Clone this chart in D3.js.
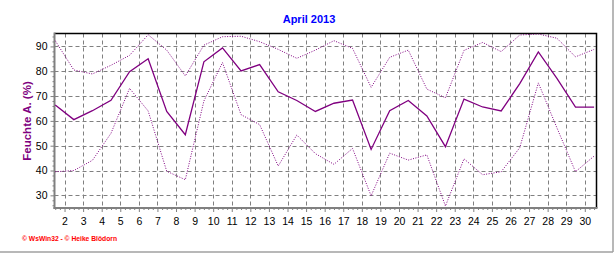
<!DOCTYPE html>
<html>
<head>
<meta charset="utf-8">
<script src="https://cdn.jsdelivr.net/npm/d3@7"></script>
<style>
  body { margin: 0; background: #fff; }
  svg { display: block; }
  text { font-family: "Liberation Sans", Arial, sans-serif; }
</style>
</head>
<body>
<svg id="chart" width="616" height="253"></svg>
<script>
// daily humidity values, April 2013 (days 1..30)
const days = d3.range(1, 31)
const maxHum = [92.3, 80.5, 78.9, 82.4, 86.4, 94.7, 88.5, 78.1, 90.5, 93.9,
  94.1, 91.9, 88.8, 85.2, 88.5, 92.3, 89.2, 73.5, 85.6, 88.5,
  72.8, 69.3, 88.4, 91.6, 87.9, 94.6, 95.0, 93.3, 85.8, 88.8]
const meanHum = [66.4, 60.5, 64.1, 68.3, 79.8, 85.0, 63.8, 54.4, 83.8, 89.4,
  80.1, 82.7, 71.7, 68.2, 63.8, 67.1, 68.4, 48.5, 64.1, 68.2,
  62.0, 49.6, 68.8, 65.6, 64.0, 75.0, 87.8, 77.1, 65.5, 65.5]
const minHum = [39.5, 40.0, 44.1, 55.0, 73.1, 64.0, 39.7, 36.3, 68.0, 83.5,
  62.5, 58.5, 41.8, 54.3, 46.8, 42.5, 48.9, 29.8, 47.0, 44.2,
  46.3, 25.7, 44.7, 38.3, 39.5, 49.2, 75.3, 57.2, 39.5, 45.8]
const xTicks = d3.range(2, 31)
const yTicks = [30, 40, 50, 60, 70, 80, 90]

const svg = d3.select("#chart")
const pLeft = 54.5, pRight = 596.5, pTop = 33.5, pBottom = 208

const x = d3.scaleLinear().domain([1.46, 30.63]).range([pLeft, pRight])
const y = d3.scaleLinear().domain([24.9, 95.2]).range([pBottom, pTop])

// outer frame (right + bottom edges)
svg.append("line").attr("x1", 0).attr("x2", 613).attr("y1", 252).attr("y2", 252)
  .attr("stroke", "#a0a0a0").attr("stroke-width", 1.5)
svg.append("line").attr("x1", 613).attr("x2", 613).attr("y1", 0).attr("y2", 252)
  .attr("stroke", "#a0a0a0").attr("stroke-width", 1.5)

svg.append("defs").append("clipPath").attr("id", "plot")
  .append("rect").attr("x", pLeft).attr("y", pTop).attr("width", pRight - pLeft).attr("height", pBottom - pTop)

// grid
const grid = svg.append("g").attr("stroke", "#808080").attr("stroke-dasharray", "4,3")
grid.selectAll(".vg").data(xTicks).enter().append("line")
  .attr("x1", (d) => Math.round(x(d)) + 0.5).attr("x2", (d) => Math.round(x(d)) + 0.5)
  .attr("y1", pTop).attr("y2", pBottom)
grid.selectAll(".hg").data(yTicks).enter().append("line")
  .attr("y1", (d) => Math.round(y(d)) + 0.5).attr("y2", (d) => Math.round(y(d)) + 0.5)
  .attr("x1", pLeft).attr("x2", pRight)

// top and right border
svg.append("path")
  .attr("d", `M${pLeft},${pTop}H${pRight}V${pBottom}`)
  .attr("fill", "none").attr("stroke", "#000").attr("stroke-width", 1.5)

// axes
const yAxis = svg.append("g").attr("transform", `translate(${pLeft},0)`)
  .call(d3.axisLeft(y).tickValues(yTicks).tickSize(4).tickPadding(3))
yAxis.select(".domain").remove()
yAxis.selectAll("line").attr("stroke", "#808080")
yAxis.selectAll("text").attr("font-size", 10.5).attr("fill", "#000")
svg.append("g").attr("transform", `translate(${pLeft},0)`)
  .call(d3.axisLeft(y).tickValues(d3.range(26, 96, 2).filter((v) => v % 10 !== 0)).tickSize(2).tickFormat(""))
  .call((g) => g.select(".domain").remove())
  .selectAll("line").attr("stroke", "#808080")

const xAxis = svg.append("g").attr("transform", `translate(0,${pBottom})`)
  .call(d3.axisBottom(x).tickValues(xTicks).tickSize(4).tickPadding(6).tickFormat(d3.format("d")))
xAxis.select(".domain").remove()
xAxis.selectAll("line").attr("stroke", "#808080")
xAxis.selectAll("text").attr("font-size", 10.5).attr("fill", "#000")
svg.append("g").attr("transform", `translate(0,${pBottom})`)
  .call(d3.axisBottom(x).tickValues(d3.range(1.5, 30.6, 0.25).filter((v) => v % 1 !== 0)).tickSize(2).tickFormat(""))
  .call((g) => g.select(".domain").remove())
  .selectAll("line").attr("stroke", "#808080")

svg.append("line").attr("x1", pLeft).attr("x2", pLeft).attr("y1", pTop - 1).attr("y2", pBottom + 1)
  .attr("stroke", "#808080").attr("stroke-width", 2)
svg.append("line").attr("x1", pLeft - 1).attr("x2", pRight + 1).attr("y1", pBottom).attr("y2", pBottom)
  .attr("stroke", "#808080").attr("stroke-width", 2)

// series
const line = (vals) => d3.line().x((d, i) => x(days[i] + 0.5)).y((d) => y(d))(vals)
const lines = svg.append("g").attr("clip-path", "url(#plot)").attr("fill", "none").attr("stroke", "#800080")
lines.append("path").attr("d", line(maxHum)).attr("stroke-width", 1).attr("stroke-dasharray", "1,1.5")
lines.append("path").attr("d", line(minHum)).attr("stroke-width", 1).attr("stroke-dasharray", "1,1.5")
lines.append("path").attr("d", line(meanHum)).attr("stroke-width", 1.3)

// texts
svg.append("text").attr("x", 309).attr("y", 23).attr("text-anchor", "middle")
  .attr("font-size", 11).attr("font-weight", "bold").attr("fill", "#0000ff").text("April 2013")
svg.append("text").attr("transform", "translate(30.5,121) rotate(-90)").attr("text-anchor", "middle")
  .attr("font-size", 11.5).attr("font-weight", "bold").attr("fill", "#800080").text("Feuchte A. (%)")
svg.append("text").attr("x", 22).attr("y", 241).attr("font-size", 6.5).attr("font-weight", "bold")
  .attr("fill", "#ff0000").attr("textLength", 95).attr("lengthAdjust", "spacingAndGlyphs")
  .text("© WsWin32 - © Heike Blödorn")
</script>
</body>
</html>
